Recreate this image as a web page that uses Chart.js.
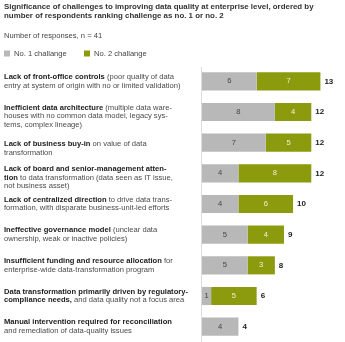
<!DOCTYPE html>
<html><head><meta charset="utf-8">
<script src="https://cdn.jsdelivr.net/npm/chart.js@4"></script>
<style>html,body{margin:0;padding:0;background:#fff}#wrap{width:345px;height:342px;position:relative}</style>
</head><body><div id="wrap"><canvas id="c"></canvas></div>
<script>
const titleLines = ["Significance of challenges to improving data quality at enterprise level, ordered by","number of respondents ranking challenge as no. 1 or no. 2"];
const subtitleText = "Number of responses, n = 41";
const seriesNames = ["No. 1 challange","No. 2 challange"];
const categories = [
 "**Lack of front-office controls** (poor quality of data\nentry at system of origin with no or limited validation)",
 "**Inefficient data architecture** (multiple data ware-\nhouses with no common data model, legacy sys-\ntems, complex lineage)",
 "**Lack of business buy-in** on value of data\ntransformation",
 "**Lack of board and senior-management atten-**\n**tion** to data transformation (data seen as IT issue,\nnot business asset)",
 "**Lack of centralized direction** to drive data trans-\nformation, with disparate business-unit-led efforts",
 "**Ineffective governance model** (unclear data\nownership, weak or inactive policies)",
 "**Insufficient funding and resource allocation** for\nenterprise-wide data-transformation program",
 "**Data transformation primarily driven by regulatory-**\n**compliance needs,** and data quality not a focus area",
 "**Manual intervention required for reconciliation**\nand remediation of data-quality issues"
];
const no1 = [6,8,7,4,4,5,5,1,4];
const no2 = [7,4,5,8,6,4,3,5,0];
const totals = no1.map((v,i)=>v+no2[i]);

const FONT = "'Liberation Sans', Arial, sans-serif";
const GRAY = '#b8b8b8', GREEN = '#8c9a0e';

function parseLine(line){
  const segs=[]; const re=/\*\*(.*?)\*\*|([^*]+)/g; let m;
  while((m=re.exec(line))){ if(m[1]!==undefined) segs.push([m[1],true]); else segs.push([m[2],false]); }
  return segs;
}

const labelPlugin = {
  id:'richLabels',
  afterDraw(chart){
    const ctx=chart.ctx, y=chart.scales.y, x=chart.scales.x, area=chart.chartArea;
    ctx.save();
    ctx.textBaseline='middle'; ctx.textAlign='left';
    ctx.font='bold 7.9px '+FONT; ctx.fillStyle='#333';
    titleLines.forEach((t,j)=>ctx.fillText(t,4,6.5+j*9));
    ctx.font='7.6px '+FONT; ctx.fillStyle='#444';
    ctx.fillText(subtitleText,4,35.5);
    const lx=[4,84];
    chart.data.datasets.forEach((ds,k)=>{
      ctx.fillStyle=ds.backgroundColor; ctx.fillRect(lx[k],50.5,6,6);
      ctx.fillStyle='#444'; ctx.font='7.6px '+FONT; ctx.fillText(ds.label,lx[k]+10,54);
    });
    const x0=Math.round(x.getPixelForValue(0))-0.5;
    ctx.strokeStyle='#dcdcdc'; ctx.lineWidth=1;
    ctx.beginPath(); ctx.moveTo(x0, area.top+1); ctx.lineTo(x0, 342); ctx.stroke();
    const lh=8.6;
    categories.forEach((cat,i)=>{
      const cy=y.getPixelForValue(i);
      const lines=cat.split('\n');
      let y0 = cy-lh/2;
      if(i===2) y0 += 6;
      lines.forEach((ln,j)=>{
        let xx=4;
        parseLine(ln).forEach(([t,b])=>{
          ctx.font=(b?'bold ':'')+'7.6px '+FONT;
          ctx.fillStyle=b?'#222':'#4a4a4a';
          ctx.fillText(t,xx,y0+j*lh);
          xx+=ctx.measureText(t).width;
        });
      });
      const meta0=chart.getDatasetMeta(0).data[i], meta1=chart.getDatasetMeta(1).data[i];
      ctx.textAlign='center';
      ctx.font='7.6px '+FONT;
      if(no1[i]>0){ ctx.fillStyle='#444'; ctx.fillText(String(no1[i]),(meta0.base+meta0.x)/2,cy); }
      if(no2[i]>0){ ctx.fillStyle='#f2f2d8'; ctx.fillText(String(no2[i]),(meta1.base+meta1.x)/2,cy); }
      ctx.textAlign='left';
      ctx.font='bold 8px '+FONT; ctx.fillStyle='#222';
      ctx.fillText(String(totals[i]), x.getPixelForValue(totals[i])+4, cy);
    });
    ctx.restore();
  }
};

new Chart(document.getElementById('c'),{
  type:'bar',
  data:{labels:categories,datasets:[
    {label:seriesNames[0],data:no1,backgroundColor:GRAY,borderWidth:0},
    {label:seriesNames[1],data:no2,backgroundColor:GREEN,borderWidth:0}
  ]},
  options:{
    indexAxis:'y',responsive:true,maintainAspectRatio:false,animation:false,
    layout:{padding:{left:202,right:0,top:66,bottom:-2}},
    datasets:{bar:{barPercentage:0.59,categoryPercentage:1}},
    scales:{
      x:{stacked:true,min:0,max:15.7,display:false},
      y:{stacked:true,display:false}
    },
    plugins:{
      title:{display:false},
      legend:{display:false},
      tooltip:{enabled:false}
    }
  },
  plugins:[labelPlugin]
});
</script></body></html>
